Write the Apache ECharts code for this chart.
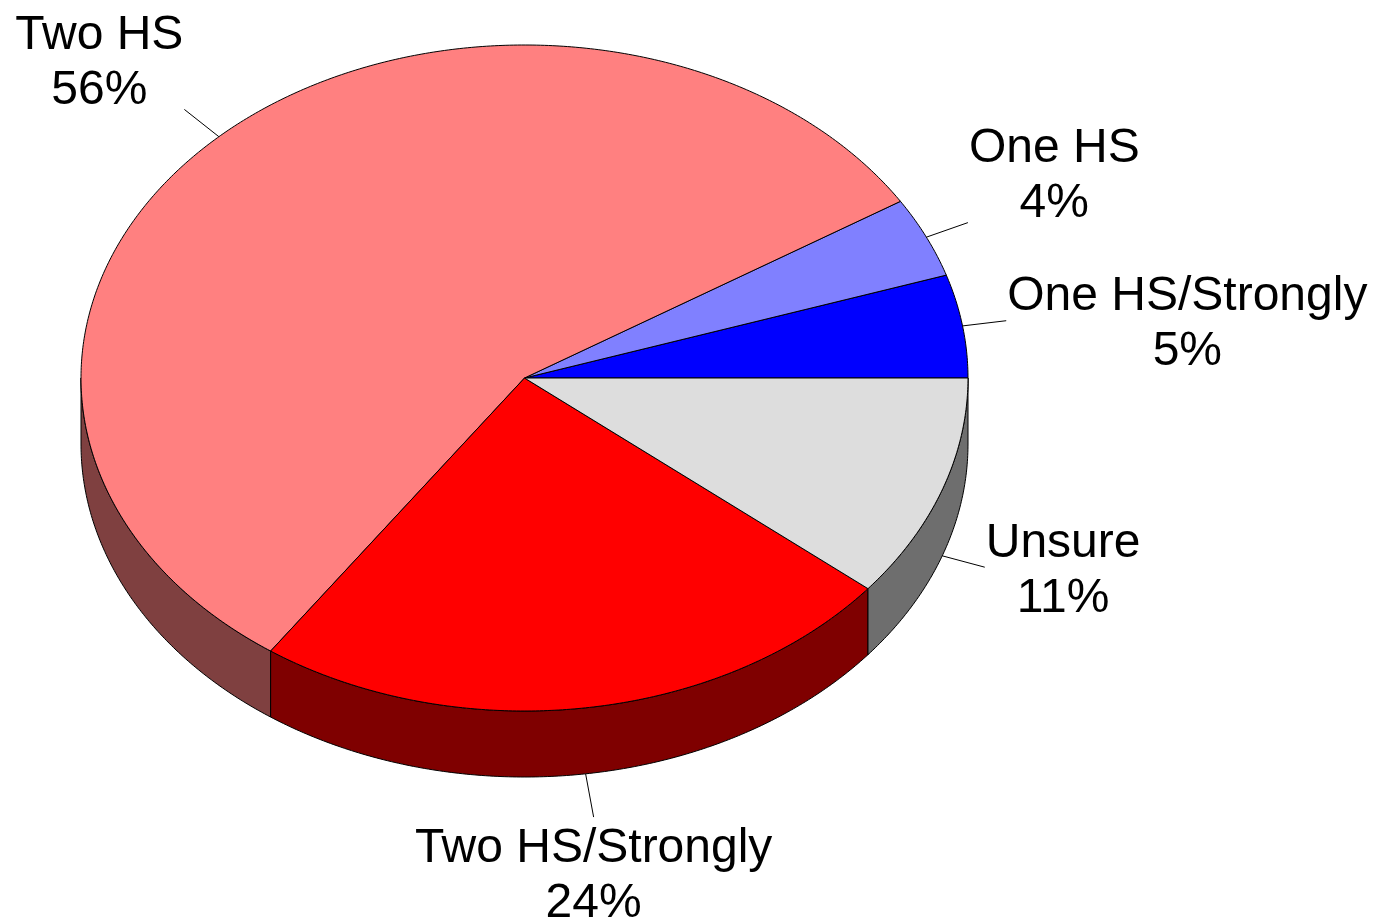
<!DOCTYPE html>
<html>
<head>
<meta charset="utf-8">
<script src="https://cdn.jsdelivr.net/npm/echarts@6/dist/echarts.min.js"></script>
<style>
html, body { margin: 0; padding: 0; background: #fff; }
#chart { width: 1389px; height: 921px; }
</style>
</head>
<body>
<div id="chart"></div>
<script>
// slices, counter-clockwise from 3 o'clock (shares in %)
var names = ['One HS/Strongly', 'One HS', 'Two HS', 'Two HS/Strongly', 'Unsure']
var values = [5.0, 3.9, 56.4, 23.8, 10.9]
var topColors = ['#0000ff', '#8080ff', '#ff8080', '#ff0000', '#dddddd']
var sideColors = ['#00007f', '#40407f', '#7f4040', '#7f0000', '#6e6e6e']

// tilted pie layout
var cx = 524.5, cy = 378, rx = 443.5, ry = 333, depth = 66
var leader = 44
var fontFamily = '"Liberation Sans", Arial, Helvetica, sans-serif'
var fontSize = 48
var lineHeight = 55

var measureCtx = document.createElement('canvas').getContext('2d')
measureCtx.font = fontSize + 'px ' + fontFamily
function blockWidth(lines) {
    var w = 0
    lines.forEach(function (l) {
        w = Math.max(w, measureCtx.measureText(l).width)
    })
    return w
}

var total = values.reduce(function (a, b) { return a + b }, 0)

function pt(t, dy) {
    return [cx + rx * Math.cos(t), cy - ry * Math.sin(t) + (dy || 0)]
}
function arc(t0, t1, dy) {
    var n = Math.max(2, Math.ceil((t1 - t0) / (Math.PI / 360)))
    var pts = []
    for (var j = 0; j <= n; j++) {
        pts.push(pt(t0 + (t1 - t0) * j / n, dy))
    }
    return pts
}

function renderItem(params, api) {
    var i = params.dataIndex
    var v = api.value(0)
    var before = 0
    for (var k = 0; k < i; k++) before += values[k]
    var a0 = before / total * 2 * Math.PI
    var a1 = (before + v) / total * 2 * Math.PI
    var children = []

    // top face
    children.push({
        type: 'polygon',
        z2: 2,
        shape: { points: [[cx, cy]].concat(arc(a0, a1, 0)) },
        style: { fill: topColors[i], stroke: '#000', lineWidth: 1 },
    })

    // visible side wall (front half only)
    var s0 = Math.max(a0, Math.PI), s1 = Math.min(a1, 2 * Math.PI)
    if (s1 > s0) {
        var upper = arc(s0, s1, 0)
        var lower = arc(s0, s1, depth).reverse()
        children.push({
            type: 'polygon',
            z2: 1,
            shape: { points: upper.concat(lower) },
            style: { fill: sideColors[i], stroke: '#000', lineWidth: 1 },
        })
    }

    // leader line + label
    var mid = (a0 + a1) / 2
    var sn = Math.sin(mid), cs = Math.cos(mid)
    var start = pt(mid, sn < 0 ? depth : 0)
    var dx = rx * cs, dy = -ry * sn
    var len = Math.sqrt(dx * dx + dy * dy)
    var end = [start[0] + dx / len * leader, start[1] + dy / len * leader]
    children.push({
        type: 'line',
        z2: 3,
        shape: { x1: start[0], y1: start[1], x2: end[0], y2: end[1] },
        style: { stroke: '#000', lineWidth: 1 },
    })

    var pct = Math.round(v / total * 100)
    var lines = [names[i], pct + '%']
    var w = blockWidth(lines)
    var tx = end[0]
    if (cs > 0.3) tx = end[0] + 1 + w / 2
    else if (cs < -0.3) tx = end[0] - 1 - w / 2
    var va = 'middle', ty = end[1] + 4
    if (sn > 0.35) {
        va = 'bottom'
        ty = end[1] + 9
    } else if (sn < -0.6) {
        va = 'top'
    }
    children.push({
        type: 'text',
        z2: 3,
        style: {
            text: lines.join('\n'),
            x: tx,
            y: ty,
            align: 'center',
            verticalAlign: va,
            fontSize: fontSize,
            fontFamily: fontFamily,
            lineHeight: lineHeight,
            fill: '#000',
        },
    })

    return { type: 'group', children: children }
}

var myChart = echarts.init(document.getElementById('chart'))
var option = {
    backgroundColor: '#fff',
    animation: false,
    series: [
        {
            type: 'custom',
            coordinateSystem: 'none',
            renderItem: renderItem,
            data: values.map(function (v, i) {
                return { name: names[i], value: [v] }
            }),
        },
    ],
}
myChart.setOption(option)
</script>
</body>
</html>
